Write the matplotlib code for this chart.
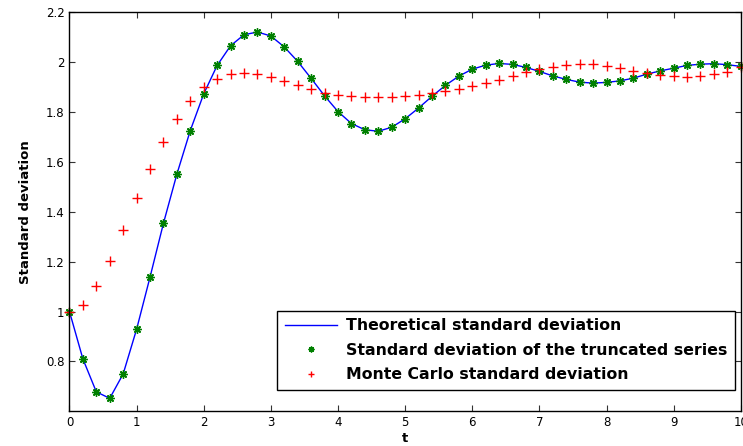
import numpy as np
import matplotlib.pyplot as plt

plt.rcParams['font.family'] = ['DejaVu Sans']

#--- DATA ---#

t = np.arange(51) * 0.2

# theoretical / truncated series standard deviation
sd_truncated = [1.000, 0.810, 0.678, 0.652, 0.750, 0.929, 1.138, 1.354, 1.551, 1.726,
                1.873, 1.987, 2.066, 2.110, 2.121, 2.105, 2.061, 2.003, 1.935, 1.865,
                1.802, 1.754, 1.729, 1.723, 1.739, 1.773, 1.816, 1.863, 1.907, 1.944,
                1.972, 1.988, 1.995, 1.991, 1.979, 1.963, 1.945, 1.931, 1.920, 1.916,
                1.919, 1.925, 1.936, 1.952, 1.965, 1.976, 1.987, 1.992, 1.994, 1.990,
                1.983]
sd_theoretical = list(sd_truncated)

# Monte Carlo standard deviation
sd_mc = [1.000, 1.027, 1.101, 1.204, 1.326, 1.454, 1.573, 1.679, 1.771, 1.844,
         1.899, 1.932, 1.951, 1.956, 1.952, 1.940, 1.924, 1.907, 1.891, 1.877,
         1.868, 1.863, 1.859, 1.859, 1.861, 1.865, 1.869, 1.876, 1.884, 1.892,
         1.904, 1.917, 1.928, 1.944, 1.961, 1.972, 1.982, 1.988, 1.992, 1.991,
         1.984, 1.975, 1.965, 1.955, 1.947, 1.943, 1.940, 1.943, 1.951, 1.960,
         1.982]

labels = ["Theoretical standard deviation",
          "Standard deviation of the truncated series",
          "Monte Carlo standard deviation"]

#--- PLOT ---#

fig = plt.figure(figsize=(7.43, 4.46), dpi=100)
ax = fig.add_axes([0.0935, 0.0778, 0.9035, 0.8946])

ax.plot(t, sd_theoretical, color='blue', lw=1.0, label=labels[0])
ax.plot(t, sd_truncated, ls='none', marker=(8, 2, 0), ms=6, mew=1.0,
        color=(0, 0.5, 0), label=labels[1], clip_on=False)
ax.plot(t, sd_mc, ls='none', marker='+', ms=7, mew=1.0,
        color='red', label=labels[2], clip_on=False)

ax.set_xlim(0, 10)
ax.set_ylim(0.6, 2.2)
ax.set_xticks(np.arange(0, 11, 1))
ax.set_yticks([0.8, 1.0, 1.2, 1.4, 1.6, 1.8, 2.0, 2.2])
ax.set_yticklabels(['0.8', '1', '1.2', '1.4', '1.6', '1.8', '2', '2.2'])
ax.tick_params(direction='in', top=True, right=True, length=4, width=0.8,
               labelsize=8.5, color='#333333')
for s in ax.spines.values():
    s.set_linewidth(1.0)

ax.set_xlabel('t', fontsize=9.5, fontweight='bold', labelpad=2)
ax.set_ylabel('Standard deviation', fontsize=9.5, fontweight='bold', labelpad=10)

leg = ax.legend(loc='lower right', bbox_to_anchor=(0.992, 0.053), fancybox=False,
                edgecolor='black', framealpha=1, handlelength=3.3, handletextpad=0.6,
                prop={'weight': 'bold', 'size': 11.3}, borderpad=0.5,
                labelspacing=0.6, borderaxespad=0, markerscale=0.7)
leg.get_frame().set_linewidth(1.0)

plt.savefig('out.png', dpi=100)
plt.close()
